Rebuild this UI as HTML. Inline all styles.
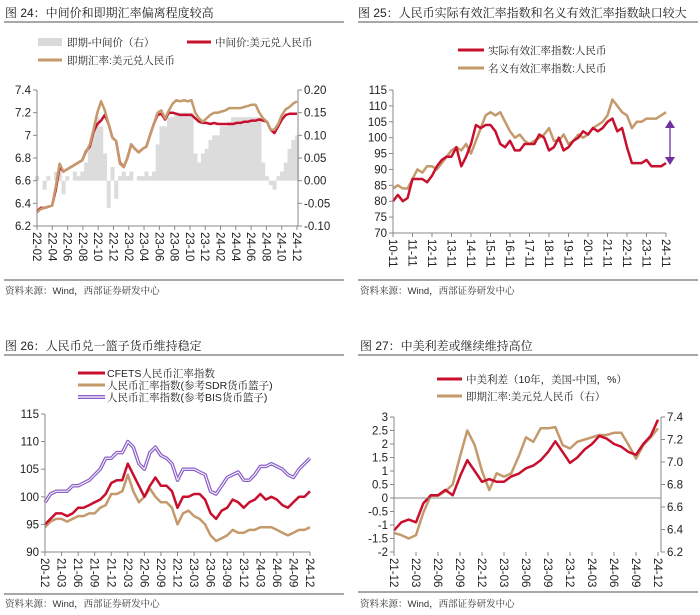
<!DOCTYPE html>
<html><head><meta charset="utf-8">
<style>
body{margin:0;background:#fff;}
svg{display:block;font-family:"Liberation Sans","Noto Sans CJK SC",sans-serif;}
.t{font-family:"Liberation Sans","Noto Serif CJK SC",serif;font-size:12px;fill:#222;}
.lg{font-family:"Liberation Sans","Noto Serif CJK SC",serif;font-size:10.5px;fill:#222;}
.src{font-family:"Liberation Sans","Noto Serif CJK SC",serif;font-size:9.5px;fill:#333;}
.tk{font-size:11.5px;fill:#222;}
</style></head>
<body>
<svg id="c" width="700" height="615" viewBox="0 0 700 615">
<text class="t" x="5" y="17">图 24：中间价和即期汇率偏离程度较高</text>
<text class="t" x="358" y="17">图 25：人民币实际有效汇率指数和名义有效汇率指数缺口较大</text>
<text class="t" x="5" y="350">图 26：人民币兑一篮子货币维持稳定</text>
<text class="t" x="360" y="350">图 27：中美利差或继续维持高位</text>
<g stroke="#8c8c8c" stroke-width="1.5">
<line x1="4" y1="22" x2="344" y2="22"/><line x1="358" y1="22" x2="698" y2="22"/>
<line x1="4" y1="280" x2="344" y2="280"/><line x1="358" y1="280" x2="698" y2="280"/>
<line x1="4" y1="355" x2="344" y2="355"/><line x1="358" y1="355" x2="698" y2="355"/>
<line x1="4" y1="594" x2="344" y2="594"/><line x1="358" y1="592" x2="698" y2="592"/>
</g>
<text class="src" x="5" y="294">资料来源：Wind，西部证券研发中心</text>
<text class="src" x="360" y="294">资料来源：Wind，西部证券研发中心</text>
<text class="src" x="5" y="607">资料来源：Wind，西部证券研发中心</text>
<text class="src" x="360" y="607">资料来源：Wind，西部证券研发中心</text>

<rect x="38" y="38" width="24" height="8" fill="#d9d9d9"/>
<text class="lg" x="67" y="46">即期-中间价（右）</text>
<line x1="187" y1="42" x2="211" y2="42" stroke="#c8102e" stroke-width="3"/>
<text class="lg" x="215" y="46">中间价:美元兑人民币</text>
<line x1="38" y1="60" x2="62" y2="60" stroke="#c49a6c" stroke-width="3"/>
<text class="lg" x="67" y="64">即期汇率:美元兑人民币</text>

<line x1="458" y1="50" x2="484" y2="50" stroke="#c8102e" stroke-width="3"/>
<text class="lg" x="488" y="54">实际有效汇率指数:人民币</text>
<line x1="458" y1="68" x2="484" y2="68" stroke="#c49a6c" stroke-width="3"/>
<text class="lg" x="488" y="72">名义有效汇率指数:人民币</text>

<line x1="78" y1="373" x2="105" y2="373" stroke="#c8102e" stroke-width="3"/>
<text class="lg" x="107" y="377">CFETS人民币汇率指数</text>
<line x1="78" y1="385" x2="105" y2="385" stroke="#c49a6c" stroke-width="3"/>
<text class="lg" x="107" y="389">人民币汇率指数(参考SDR货币篮子)</text>
<line x1="78" y1="397" x2="105" y2="397" stroke="#8b5fc7" stroke-width="4"/>
<line x1="78" y1="397" x2="105" y2="397" stroke="#fff" stroke-width="1.2"/>
<text class="lg" x="107" y="401">人民币汇率指数(参考BIS货币篮子)</text>

<line x1="437" y1="379" x2="462" y2="379" stroke="#c8102e" stroke-width="3"/>
<text class="lg" x="466" y="383">中美利差（10年，美国-中国，%）</text>
<line x1="437" y1="396" x2="462" y2="396" stroke="#c49a6c" stroke-width="3"/>
<text class="lg" x="466" y="400">即期汇率:美元兑人民币（右）</text>

<g>
<line x1="670" y1="127" x2="670" y2="158" stroke="#7030a0" stroke-width="1.3"/>
<polygon points="665,128 675,128 670,120" fill="#7030a0"/>
<polygon points="665,157 675,157 670,165" fill="#7030a0"/>
</g>
</svg>
<script>
const f24Ticks = ["22-02","22-04","22-06","22-08","22-10","22-12","23-02","23-04","23-06","23-08","23-10","23-12","24-02","24-04","24-06","24-08","24-10","24-12"];
const f24LeftTicks = [6.2,6.4,6.6,6.8,7,7.2,7.4];
const f24RightTicks = [-0.10,-0.05,0.00,0.05,0.10,0.15,0.20];
const f24Spot = [6.32,6.35,6.36,6.37,6.38,6.55,6.75,6.68,6.70,6.72,6.74,6.76,6.78,6.85,6.92,7.05,7.20,7.30,7.22,7.10,6.98,6.95,6.75,6.72,6.80,6.92,6.88,6.85,6.88,6.90,7.00,7.10,7.20,7.22,7.15,7.22,7.28,7.31,7.30,7.31,7.30,7.31,7.20,7.15,7.12,7.15,7.18,7.20,7.20,7.21,7.22,7.24,7.24,7.24,7.24,7.25,7.26,7.27,7.27,7.20,7.15,7.12,7.05,7.05,7.10,7.18,7.23,7.25,7.28,7.30];
const f24Mid = [6.33,6.36,6.36,6.37,6.38,6.52,6.72,6.68,6.70,6.72,6.74,6.76,6.78,6.86,6.90,7.03,7.10,7.13,7.18,7.10,6.98,6.95,6.76,6.72,6.80,6.92,6.88,6.85,6.88,6.90,7.00,7.10,7.18,7.19,7.14,7.20,7.20,7.19,7.18,7.18,7.18,7.18,7.15,7.12,7.11,7.11,7.10,7.11,7.10,7.10,7.10,7.10,7.10,7.11,7.11,7.12,7.12,7.13,7.13,7.14,7.13,7.12,7.05,7.02,7.08,7.14,7.18,7.19,7.19,7.19];
const f24Spread = [0.01,0.00,-0.02,0.01,0.00,0.02,0.02,-0.03,0.01,0.00,0.02,0.01,0.02,0.04,0.08,0.11,0.14,0.12,0.06,-0.06,0.03,-0.04,0.01,0.02,0.01,0.02,0.00,0.01,0.01,0.02,0.01,0.02,0.08,0.12,0.12,0.14,0.14,0.15,0.15,0.15,0.15,0.15,0.06,0.04,0.06,0.07,0.09,0.10,0.10,0.12,0.12,0.13,0.14,0.14,0.14,0.14,0.14,0.14,0.14,0.14,0.04,0.01,-0.01,-0.02,0.01,0.02,0.04,0.07,0.09,0.10];
const f25Ticks = ["10-11","11-11","12-11","13-11","14-11","15-11","16-11","17-11","18-11","19-11","20-11","21-11","22-11","23-11","24-11"];
const f25YTicks = [70,75,80,85,90,95,100,105,110,115];
const f25Real = [80,82,80,81,87,87,87,86,88,91,93,94,94,97,91,94,98,104,103,104,104,102,98,97,99,96,96,98,98,98,101,100,96,97,100,96,97,99,100,102,101,103,102,103,105,106,102,103,97,92,92,92,93,91,91,91,92];
const f25Nominal = [84,85,84,84,87,90,89,91,91,90,92,94,96,97,96,98,95,99,103,107,108,107,108,105,102,100,101,99,98,99,100,101,103,99,99,101,98,99,101,100,101,103,104,105,107,112,110,108,107,103,105,105,106,106,106,107,108];
const f26Ticks = ["20-12","21-03","21-06","21-09","21-12","22-03","22-06","22-09","22-12","23-03","23-06","23-09","23-12","24-03","24-06","24-09","24-12"];
const f26YTicks = [90,95,100,105,110,115];
const f26Cfets = [95,96,97,97,96.5,97,98,98,98.5,99,99.5,100.5,102.5,103,103,106,104,102,100,102,103.5,102,102,101,98,100,100,100.5,100.5,99.5,97,96,97.5,98,99.5,99,98,99,99.5,100.5,99.5,100,99.5,98.5,98,99,100,100,101];
const f26Sdr = [94.5,95.5,96,96,95.5,96,96.5,96.5,97,97,98,98.5,100.5,100.5,101,104,101,99,100,101.5,100,99,99,98,95,97,97.5,96.5,96,95,93,92,92.5,93,94,93.5,93.5,94,94,94.5,94.5,94.5,94,93.5,93,93.5,94,94,94.5];
const f26Bis = [99,100.5,101,101,101,102,102,102.5,103,104,105,107,107,108,108,110,109,106,105,108,109,107.5,107,106,103,105,105,105,104.5,104,101,100.5,102,103.5,104,104.5,103,103,104,105.5,105.5,106,105.5,105,104,103.5,105,106,107];
const f27Ticks = ["21-12","22-03","22-06","22-09","22-12","23-03","23-06","23-09","23-12","24-03","24-06","24-09","24-12"];
const f27LeftTicks = [-2,-1.5,-1,-0.5,0,0.5,1,1.5,2,2.5,3];
const f27RightTicks = [6.2,6.4,6.6,6.8,7.0,7.2,7.4];
const f27Spread = [-1.2,-0.9,-0.8,-0.9,-0.2,0.1,0.1,0.3,0.1,0.8,1.4,1.0,0.6,0.7,0.6,0.6,0.8,0.9,1.1,1.2,1.4,1.7,2.1,1.7,1.3,1.5,1.8,2.0,2.3,2.2,2.0,1.9,1.7,1.6,2.0,2.3,2.9];
const f27Spot = [6.37,6.35,6.32,6.35,6.55,6.70,6.70,6.74,6.80,7.05,7.28,7.15,6.92,6.75,6.90,6.87,6.90,7.05,7.22,7.18,7.30,7.30,7.31,7.15,7.12,7.18,7.20,7.22,7.24,7.24,7.26,7.26,7.15,7.03,7.15,7.22,7.30];

const svg = document.getElementById('c');
const NS = 'http://www.w3.org/2000/svg';
function mk(tag, attrs, parent){const e=document.createElementNS(NS,tag);for(const k in attrs)e.setAttribute(k,attrs[k]);(parent||svg).appendChild(e);return e;}
function lin(d0,d1,r0,r1){return v=>r0+(v-d0)/(d1-d0)*(r1-r0);}
function pathOf(vals,x,y){return vals.map((v,i)=>(i?'L':'M')+x(i).toFixed(1)+','+y(v).toFixed(1)).join('');}
function xLabels(ticks,xl,xr,ytop,g){
  ticks.forEach((t,i)=>{const xx=xl+(xr-xl)*i/(ticks.length-1);
    mk('line',{x1:xx,y1:ytop,x2:xx,y2:ytop+4,stroke:'#888'},g);
    const tx=mk('text',{x:xx-4,y:ytop+6,class:'tk',transform:`rotate(90 ${xx-4} ${ytop+6})`},g);
    
    
    tx.textContent=t;});
}
function yLabels(ticks,y,x,side,g,fmt){
  ticks.forEach(v=>{const yy=y(v);
    mk('line',{x1:x,y1:yy,x2:side==='L'?x-4:x+4,y2:yy,stroke:'#888'},g);
    const tx=mk('text',{x:side==='L'?x-6:x+6,y:yy+4,class:'tk','text-anchor':side==='L'?'end':'start'},g);
    
    
    tx.textContent=fmt?fmt(v):String(v);});
}
function line(vals,x,y,color,w,name,g){
  const p=mk('path',{d:pathOf(vals,x,y),fill:'none',stroke:color,'stroke-width':w,'stroke-linejoin':'round'},g);
  
  
  return p;
}

(function(){
  const g=mk('g',{});
  
  
  const XL=37,XR=297,YT=90,YB=226;
  const n=f24Spot.length;
  const x=i=>XL+(XR-XL)*i/(n-1);
  const yL=lin(6.2,7.4,YB,YT), yR=lin(-0.10,0.20,YB,YT);
  const bw=(XR-XL)/(n-1);
  f24Spread.forEach((v,i)=>{
    const y0=yR(0),y1=yR(v);
    const r=mk('rect',{x:x(i)-bw/2,y:Math.min(y0,y1),width:bw+0.3,height:Math.abs(y1-y0),fill:'#dcdcdc'},g);
    
    
  });
  line(f24Mid,x,yL,'#c8102e',2.5,'mid-rate-line',g);
  line(f24Spot,x,yL,'#c49a6c',2.5,'spot-rate-line',g);
  mk('line',{x1:XL,y1:YT,x2:XL,y2:YB,stroke:'#888'},g);
  mk('line',{x1:XR+1,y1:YT,x2:XR+1,y2:YB,stroke:'#888'},g);
  mk('line',{x1:XL,y1:YB,x2:XR+1,y2:YB,stroke:'#888'},g);
  yLabels(f24LeftTicks,yL,XL,'L',g);
  yLabels(f24RightTicks,yR,XR+1,'R',g,v=>v.toFixed(2));
  xLabels(f24Ticks,XL,XR,YB,g);
})();

(function(){
  const g=mk('g',{});
  
  
  const XL=393,XR=666,YT=90,YB=233;
  const n=f25Real.length;
  const x=i=>XL+(XR-XL)*i/(n-1);
  const y=lin(70,115,YB,YT);
  line(f25Nominal,x,y,'#c49a6c',2.5,'neer-line',g);
  line(f25Real,x,y,'#c8102e',2.5,'reer-line',g);
  mk('line',{x1:XL,y1:YT,x2:XL,y2:YB,stroke:'#888'},g);
  mk('line',{x1:XL,y1:YB,x2:XR,y2:YB,stroke:'#888'},g);
  yLabels(f25YTicks,y,XL,'L',g);
  xLabels(f25Ticks,XL,XR,YB,g);
})();

(function(){
  const g=mk('g',{});
  
  
  const XL=45,XR=310,YT=414,YB=552;
  const n=f26Cfets.length;
  const x=i=>XL+(XR-XL)*i/(n-1);
  const y=lin(90,115,YB,YT);
  line(f26Bis,x,y,'#8b5fc7',3.5,'bis-line',g);
  line(f26Bis,x,y,'#ffffff',1,'bis-line-inner',g);
  line(f26Sdr,x,y,'#c49a6c',2.5,'sdr-line',g);
  line(f26Cfets,x,y,'#c8102e',2.5,'cfets-line',g);
  mk('line',{x1:XL,y1:YT,x2:XL,y2:YB,stroke:'#888'},g);
  mk('line',{x1:XL,y1:YB,x2:XR,y2:YB,stroke:'#888'},g);
  yLabels(f26YTicks,y,XL,'L',g);
  xLabels(f26Ticks,XL,XR,YB,g);
})();

(function(){
  const g=mk('g',{});
  
  
  const XL=394,XR=658,YT=417,YB=552;
  const n=f27Spread.length;
  const x=i=>XL+(XR-XL)*i/(n-1);
  const yL=lin(-2,3,YB,YT), yR=lin(6.2,7.4,YB,YT);
  line(f27Spot,x,yR,'#c49a6c',2.5,'spot27-line',g);
  line(f27Spread,x,yL,'#c8102e',2.5,'spread27-line',g);
  mk('line',{x1:XL,y1:YT,x2:XL,y2:YB,stroke:'#888'},g);
  mk('line',{x1:XR+3,y1:YT,x2:XR+3,y2:YB,stroke:'#888'},g);
  mk('line',{x1:XL,y1:yL(0),x2:XR+3,y2:yL(0),stroke:'#888'},g);
  yLabels(f27LeftTicks,yL,XL,'L',g);
  yLabels(f27RightTicks,yR,XR+3,'R',g,v=>v.toFixed(1));
  xLabels(f27Ticks,XL,XR,YB,g);
})();
</script>
</body></html>
